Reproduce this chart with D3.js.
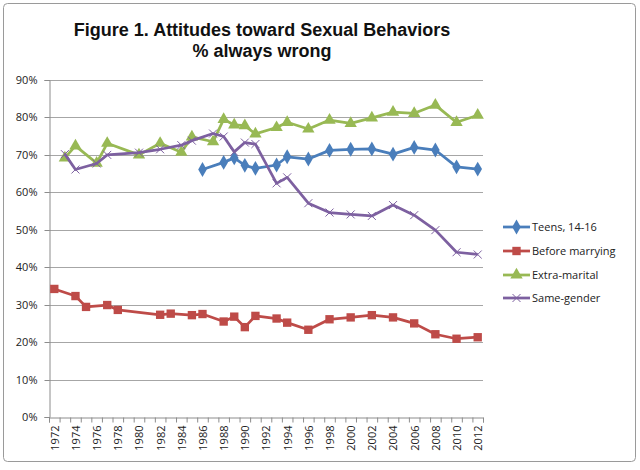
<!DOCTYPE html>
<html lang="en">
  <head>
    <meta charset="utf-8" />
    <title>Figure 1. Attitudes toward Sexual Behaviors</title>
    <script src="https://cdnjs.cloudflare.com/ajax/libs/d3/7.0.0/d3.min.js"></script>
    <style>
      body {
        margin: 0;
        background: #fff;
      }
      .title {
        font-family: "Liberation Sans", Arial, sans-serif;
        font-weight: bold;
        font-size: 18px;
        fill: #111;
      }
      .axis text,
      .legend text {
        font-family: "Open Sans", sans-serif;
        font-size: 11px;
        fill: #222;
      }
      .grid line {
        stroke: #a6a6a6;
        stroke-width: 1;
      }
    </style>
  </head>
  <body>
    <div id="chart"></div>
    <script>
      // values, % saying "always wrong"
      const teensYears = [1986, 1988, 1989, 1990, 1991, 1993, 1994, 1996, 1998, 2000, 2002, 2004, 2006, 2008, 2010, 2012];
      const teensValues = [66.1, 68.0, 69.2, 67.2, 66.4, 67.3, 69.5, 68.9, 71.2, 71.5, 71.6, 70.2, 72.0, 71.3, 66.8, 66.2];

      const beforeYears = [1972, 1974, 1975, 1977, 1978, 1982, 1983, 1985, 1986, 1988, 1989, 1990, 1991, 1993, 1994, 1996, 1998, 2000, 2002, 2004, 2006, 2008, 2010, 2012];
      const beforeValues = [34.2, 32.3, 29.4, 29.9, 28.6, 27.3, 27.6, 27.2, 27.5, 25.5, 26.8, 24.0, 27.0, 26.3, 25.2, 23.3, 26.1, 26.6, 27.2, 26.6, 25.0, 22.1, 20.9, 21.3];

      const extraYears = [1973, 1974, 1976, 1977, 1980, 1982, 1984, 1985, 1987, 1988, 1989, 1990, 1991, 1993, 1994, 1996, 1998, 2000, 2002, 2004, 2006, 2008, 2010, 2012];
      const extraValues = [69.2, 72.4, 67.8, 73.1, 70.0, 73.1, 70.7, 74.8, 73.5, 79.5, 78.0, 77.8, 75.6, 77.3, 78.7, 76.9, 79.3, 78.4, 79.9, 81.4, 81.1, 83.3, 78.7, 80.6];

      const sameYears = extraYears;
      const sameValues = [70.2, 66.1, 67.7, 70.0, 70.6, 71.5, 72.6, 73.8, 75.7, 74.9, 70.8, 73.3, 72.9, 62.4, 64.0, 57.1, 54.6, 54.1, 53.7, 56.6, 53.9, 49.9, 44.0, 43.4];

      const seriesNames = ["Teens, 14-16", "Before marrying", "Extra-marital", "Same-gender"];
      const yTicks = [0, 10, 20, 30, 40, 50, 60, 70, 80, 90];
      const firstYear = 1972;
      const lastYear = 2012;

      const series = [
        { name: seriesNames[0], years: teensYears, values: teensValues, color: "#4a7ebb", marker: "diamond" },
        { name: seriesNames[1], years: beforeYears, values: beforeValues, color: "#be4b48", marker: "square" },
        { name: seriesNames[2], years: extraYears, values: extraValues, color: "#98b954", marker: "triangle" },
        { name: seriesNames[3], years: sameYears, values: sameValues, color: "#7d60a0", marker: "x" },
      ];

      const width = 640;
      const height = 470;
      const plot = { left: 49, right: 483, top: 80, bottom: 417 };

      const svg = d3
        .select("#chart")
        .append("svg")
        .attr("width", width)
        .attr("height", height);

      // outer chart frame
      svg
        .append("rect")
        .attr("x", 3.5)
        .attr("y", 3.5)
        .attr("width", 632)
        .attr("height", 458)
        .attr("rx", 4)
        .attr("fill", "#fff")
        .attr("stroke", "#9a9a9a");

      svg
        .append("text")
        .attr("class", "title")
        .attr("x", 262)
        .attr("y", 36)
        .attr("text-anchor", "middle")
        .text("Figure 1. Attitudes toward Sexual Behaviors");
      svg
        .append("text")
        .attr("class", "title")
        .attr("x", 262)
        .attr("y", 57)
        .attr("text-anchor", "middle")
        .text("% always wrong");

      // category axis: one slot per year, ticks between slots
      const x = d3
        .scaleLinear()
        .domain([firstYear - 0.5, lastYear + 0.5])
        .range([plot.left, plot.right]);
      const y = d3.scaleLinear().domain([0, 90]).range([plot.bottom, plot.top]);

      // gridlines
      svg
        .append("g")
        .attr("class", "grid")
        .selectAll("line")
        .data(yTicks.slice(1))
        .enter()
        .append("line")
        .attr("x1", plot.left)
        .attr("x2", plot.right)
        .attr("y1", (d) => Math.round(y(d)) + 0.5)
        .attr("y2", (d) => Math.round(y(d)) + 0.5);

      // y axis
      const yAxis = svg
        .append("g")
        .attr("class", "axis")
        .attr("transform", `translate(${plot.left + 0.5},0)`)
        .call(
          d3
            .axisLeft(y)
            .tickValues(yTicks)
            .tickSize(5)
            .tickPadding(7)
            .tickFormat((d) => d + "%")
        );
      yAxis.select(".domain").attr("stroke", "#8c8c8c");
      yAxis.selectAll(".tick line").attr("stroke", "#8c8c8c");
      yAxis.selectAll(".tick").attr("transform", (d) => `translate(0,${Math.round(y(d)) + 0.5})`);

      // x axis tick marks at slot boundaries
      const boundaries = d3.range(firstYear - 0.5, lastYear + 1, 1);
      const xTicks = svg
        .append("g")
        .attr("class", "axis")
        .attr("transform", `translate(0,${plot.bottom + 0.5})`)
        .call(d3.axisBottom(x).tickValues(boundaries).tickSize(5).tickFormat(""));
      xTicks.select(".domain").attr("stroke", "#8c8c8c");
      xTicks.selectAll(".tick line").attr("stroke", "#8c8c8c");

      // x labels, every second year, rotated
      const evenYears = d3.range(firstYear, lastYear + 1, 2);
      const xLabels = svg
        .append("g")
        .attr("class", "axis")
        .attr("transform", `translate(0,${plot.bottom + 0.5})`)
        .call(d3.axisBottom(x).tickValues(evenYears).tickSize(0).tickFormat(d3.format("d")));
      xLabels.select(".domain").remove();
      xLabels
        .selectAll("text")
        .attr("transform", "rotate(-90)")
        .attr("text-anchor", "end")
        .attr("x", -8)
        .attr("y", 0)
        .attr("dy", "0.35em");

      function drawMarker(g, type, color) {
        if (type === "x") {
          g.append("path")
            .attr("d", "M-4,-4L4,4M-4,4L4,-4")
            .attr("stroke", color)
            .attr("stroke-width", 1)
            .attr("fill", "none");
        } else {
          const sym = { diamond: d3.symbolDiamond, square: d3.symbolSquare, triangle: d3.symbolTriangle }[type];
          const size = { diamond: 64, square: 70, triangle: 66 }[type];
          g.append("path").attr("d", d3.symbol().type(sym).size(size)()).attr("fill", color);
        }
      }

      const line = d3
        .line()
        .x((d) => x(d.year))
        .y((d) => y(d.value));

      series.forEach((s) => {
        const pts = s.years.map((yr, i) => ({ year: yr, value: s.values[i] }));
        svg
          .append("path")
          .datum(pts)
          .attr("d", line)
          .attr("fill", "none")
          .attr("stroke", s.color)
          .attr("stroke-width", 2.75)
          .attr("stroke-linejoin", "round");
        svg
          .append("g")
          .selectAll("g")
          .data(pts)
          .enter()
          .append("g")
          .attr("transform", (d) => `translate(${x(d.year)},${y(d.value)})`)
          .each(function () {
            drawMarker(d3.select(this), s.marker, s.color);
          });
      });

      // legend
      const legend = svg.append("g").attr("class", "legend");
      const legendY = [227, 251, 275, 298];
      series.forEach((s, i) => {
        const row = legend.append("g").attr("transform", `translate(503,${legendY[i]})`);
        row
          .append("line")
          .attr("x1", 0)
          .attr("x2", 27)
          .attr("stroke", s.color)
          .attr("stroke-width", 2.75);
        drawMarker(row.append("g").attr("transform", "translate(13.5,0)"), s.marker, s.color);
        row.append("text").attr("x", 29).attr("dy", "0.35em").text(s.name);
      });
    </script>
  </body>
</html>
